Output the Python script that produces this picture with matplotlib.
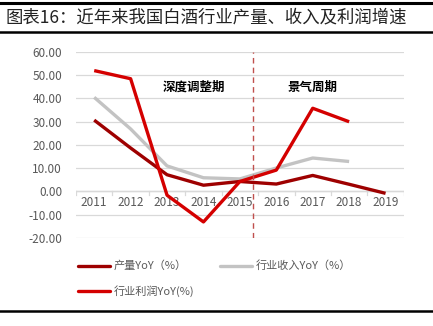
import matplotlib
matplotlib.use("Agg")
import matplotlib.pyplot as plt
from matplotlib.lines import Line2D

plt.rcParams['font.family'] = ['Noto Sans CJK SC', 'DejaVu Sans']

years = ['2011', '2012', '2013', '2014', '2015', '2016', '2017', '2018', '2019']
production = [30.7, 18.7, 7.2, 2.7, 4.3, 3.2, 6.9, 3.1, -0.8]
revenue = [40.5, 26.9, 11.0, 5.9, 5.4, 10.1, 14.4, 12.9]
profit = [52.0, 48.5, -1.6, -13.1, 4.3, 9.2, 35.8, 30.0]

title = '图表16：近年来我国白酒行业产量、收入及利润增速'
phase_labels = ['深度调整期', '景气周期']
legend_labels = ['产量YoY（%）', '行业收入YoY（%）', '行业利润YoY(%)']
yticks = [60, 50, 40, 30, 20, 10, 0, -10, -20]

c_prod = '#9E0000'
c_rev = '#C3C3C3'
c_prof = '#D40000'

fig = plt.figure(figsize=(4.33, 3.26), dpi=100)
ax = fig.add_axes([0.1755, 0.27, 0.757, 0.5705])

x = list(range(len(years)))
ax.plot(x[:len(revenue)], revenue, color=c_rev, lw=2.4, solid_capstyle='butt', zorder=3)
ax.plot(x[:len(production)], production, color=c_prod, lw=2.4, solid_capstyle='butt', zorder=4)
ax.plot(x[:len(profit)], profit, color=c_prof, lw=2.4, solid_capstyle='butt', zorder=5)

ax.set_xlim(-0.5, len(years) - 0.5)
ax.set_ylim(-20, 60)
ax.set_yticks(yticks)
ax.set_yticklabels([f'{v:.2f}' for v in yticks], color='#595959', fontsize=8.5)
ax.grid(axis='y', color='#D9D9D9', lw=0.9)
ax.set_axisbelow(True)
for s in ax.spines.values():
    s.set_visible(False)
ax.tick_params(axis='y', length=0, pad=10)
ax.tick_params(axis='x', length=0)
ax.set_xticks([])

# x axis at zero with boundary ticks
ax.axhline(0, color='#D9D9D9', lw=1.0, zorder=2)
for b in range(len(years) + 1):
    ax.plot([b - 0.5, b - 0.5], [0, -1.3], color='#D9D9D9', lw=0.9, zorder=2)
for i, yl in enumerate(years):
    ax.text(i, -2.0, yl, ha='center', va='top', fontsize=8.5, color='#595959')

# dividing dashed line
ax.axvline(4.35, color='#C0504D', lw=1.0, ls=(0, (4, 3)), zorder=6)
ax.text(2.75, 44.8, phase_labels[0], ha='center', va='center', fontsize=9, fontweight='bold', color='#000000')
ax.text(6.0, 44.8, phase_labels[1], ha='center', va='center', fontsize=9, fontweight='bold', color='#000000')

# title and rules
fig.text(0.012, 0.947, title, ha='left', va='center', fontsize=12.5, color='#222222')
fig.add_artist(Line2D([0.0, 1.0], [0.991, 0.991], color='black', lw=2.2, transform=fig.transFigure))
fig.add_artist(Line2D([0.0, 1.0], [0.901, 0.901], color='black', lw=1.8, transform=fig.transFigure))
fig.add_artist(Line2D([0.0, 1.0], [0.046, 0.046], color='black', lw=1.8, transform=fig.transFigure))

# legend
handles = [Line2D([], [], color=c, lw=2.4) for c in (c_prod, c_rev, c_prof)]
leg_pos = [(0.18, 0.185), (0.508, 0.185), (0.18, 0.108)]
for h, lab, (lx, ly) in zip(handles, legend_labels, leg_pos):
    fig.add_artist(Line2D([lx, lx + 0.075], [ly, ly], color=h.get_color(), lw=2.4, transform=fig.transFigure, solid_capstyle='round'))
    fig.text(lx + 0.082, ly, lab, ha='left', va='center', fontsize=8, color='#595959')

fig.savefig('out.png', dpi=100)
